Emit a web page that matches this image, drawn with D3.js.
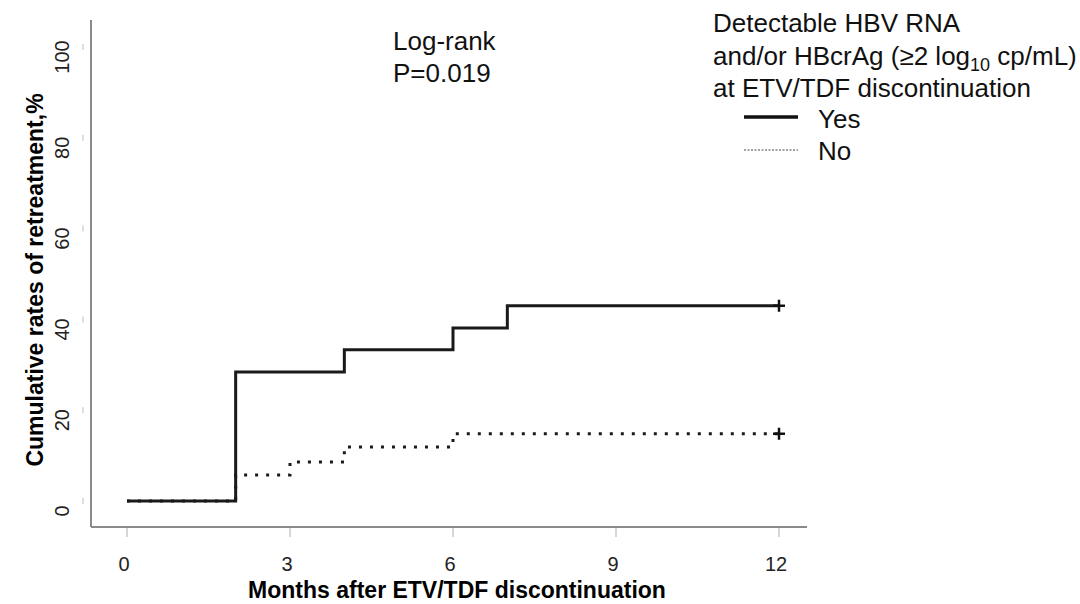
<!DOCTYPE html>
<html><head><meta charset="utf-8">
<script src="https://cdn.jsdelivr.net/npm/d3@7"></script>
<style>body{margin:0;background:#fff}svg{display:block}text{font-family:"Liberation Sans",Arial,sans-serif}</style>
</head><body><svg id="c" width="1080" height="604"></svg>
<script>
// data
const xTicks = [0, 3, 6, 9, 12];
const yTicks = [0, 20, 40, 60, 80, 100];
const yesTimes = [0, 2, 4, 6, 7, 12];
const yesValues = [0, 28.4, 33.3, 38.1, 43.0, 43.0];
const noTimes = [0, 2, 3, 4, 6, 12];
const noValues = [0, 5.7, 8.6, 11.9, 14.8, 14.8];
const legendTitle = ["Detectable HBV RNA", "and/or HBcrAg (\u22652 log", "at ETV/TDF discontinuation"];
const legendLabels = ["Yes", "No"];

const svg = d3.select("#c");
const x = d3.scaleLinear().domain([0, 12]).range([127, 779]);
const y = d3.scaleLinear().domain([0, 100]).range([501, 47]);

// axes lines
svg.append("line").attr("x1", 91).attr("x2", 91).attr("y1", 20).attr("y2", 527).attr("stroke", "#8a8a8a").attr("stroke-width", 2);
svg.append("line").attr("x1", 91).attr("x2", 807).attr("y1", 527).attr("y2", 527).attr("stroke", "#8a8a8a").attr("stroke-width", 2);

// x ticks
const xg = svg.append("g");
xg.selectAll("line").data(xTicks).join("line")
  .attr("x1", d => x(d)).attr("x2", d => x(d)).attr("y1", 528).attr("y2", 537)
  .attr("stroke", "#c8c8c8").attr("stroke-width", 1.5);
xg.selectAll("text").data(xTicks).join("text")
  .attr("x", d => x(d) - 3).attr("y", 571).attr("text-anchor", "middle")
  .attr("font-size", 20).attr("fill", "#222").text(d => d);

// y ticks
const yg = svg.append("g");
yg.selectAll("line").data(yTicks).join("line")
  .attr("x1", 83).attr("x2", 83).attr("y1", d => y(d) - 3).attr("y2", d => y(d) + 3)
  .attr("stroke", "#c8c8c8").attr("stroke-width", 1.2);
yg.selectAll("text").data(yTicks).join("text")
  .attr("transform", d => `translate(69,${y(d) + 10}) rotate(-90)`)
  .attr("text-anchor", "middle").attr("font-size", 20).attr("fill", "#222").text(d => d);

// axis titles
svg.append("text").attr("x", 457).attr("y", 598).attr("text-anchor", "middle")
  .attr("font-size", 23).attr("font-weight", "bold").attr("fill", "#000")
  .text("Months after ETV/TDF discontinuation");
svg.append("text").attr("transform", "translate(43,280) rotate(-90)").attr("text-anchor", "middle")
  .attr("font-size", 23).attr("font-weight", "bold").attr("fill", "#000")
  .text("Cumulative rates of retreatment,%");

// curves
const step = d3.line().x(d => x(d[0])).y(d => y(d[1])).curve(d3.curveStepAfter);
const yesData = yesTimes.map((t, i) => [t, yesValues[i]]);
const noData = noTimes.map((t, i) => [t, noValues[i]]);
svg.append("path").attr("d", step(noData)).attr("fill", "none").attr("stroke", "#1a1a1a")
  .attr("stroke-width", 3).attr("stroke-dasharray", "3,8");
svg.append("path").attr("d", step(yesData)).attr("fill", "none").attr("stroke", "#1a1a1a")
  .attr("stroke-width", 3);

// censor marks
[yesData[yesData.length - 1], noData[noData.length - 1]].forEach(d => {
  const cx = x(d[0]), cy = y(d[1]);
  svg.append("path").attr("d", `M${cx - 6},${cy}H${cx + 6}M${cx},${cy - 6}V${cy + 6}`)
    .attr("stroke", "#111").attr("stroke-width", 2.5);
});

// Log-rank
svg.append("text").attr("x", 393).attr("y", 50).attr("font-size", 26).attr("fill", "#111").text("Log-rank");
svg.append("text").attr("x", 393).attr("y", 82).attr("font-size", 26).attr("fill", "#111").text("P=0.019");

// legend
const lg = svg.append("g");
lg.append("text").attr("x", 713).attr("y", 32).attr("font-size", 26).attr("fill", "#111").text(legendTitle[0]);
const t2 = lg.append("text").attr("x", 713).attr("y", 65).attr("font-size", 26).attr("fill", "#111");
t2.append("tspan").text(legendTitle[1]);
t2.append("tspan").attr("font-size", 18).attr("dy", 6).text("10");
t2.append("tspan").attr("dy", -6).text(" cp/mL)");
lg.append("text").attr("x", 713).attr("y", 97).attr("font-size", 26).attr("fill", "#111").text(legendTitle[2]);
lg.append("line").attr("x1", 744).attr("x2", 798).attr("y1", 117).attr("y2", 117).attr("stroke", "#111").attr("stroke-width", 3.5);
lg.append("line").attr("x1", 744).attr("x2", 798).attr("y1", 150).attr("y2", 150).attr("stroke", "#444").attr("stroke-width", 1).attr("stroke-dasharray", "2,1.5");
lg.append("text").attr("x", 818).attr("y", 128).attr("font-size", 26).attr("fill", "#111").text(legendLabels[0]);
lg.append("text").attr("x", 818).attr("y", 160).attr("font-size", 26).attr("fill", "#111").text(legendLabels[1]);
</script></body></html>
